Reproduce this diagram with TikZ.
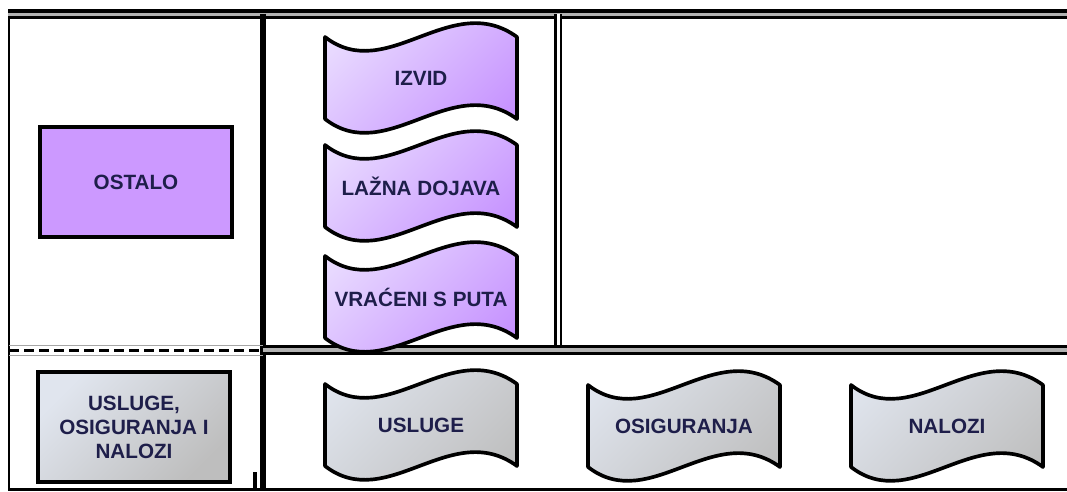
\documentclass[tikz,border=0pt]{standalone}
\usepackage{fontspec}
\setmainfont{Liberation Sans}
\definecolor{purpL}{HTML}{EADDFF}
\definecolor{purpD}{HTML}{C590FF}
\definecolor{purpF}{HTML}{CC99FF}
\definecolor{grayL}{HTML}{E0E5EE}
\definecolor{grayD}{HTML}{BEBEBE}
\definecolor{txt}{HTML}{1E1E4A}
\newcommand\wavenode[5]{% #1 style, #2 name, #3 x, #4 y, #5 text
  \begin{scope}[shift={(#3,#4)}]
    \path[#1] (-96,-41) .. controls (-34,7) and (30,-89) .. (96,-41)
      -- (96,41) .. controls (30,-7) and (-34,89) .. (-96,41) -- cycle;
    \node[lbl] (#2) at (0,0) {#5};
  \end{scope}}
\begin{document}
\begin{tikzpicture}[x=0.75pt,y=-0.75pt,
  lbl/.style={font=\fontsize{15.5}{18}\selectfont\bfseries, text=txt, align=center, inner sep=0pt},
  wave/.style={draw=black, line width=2.75pt, line join=round},
  purpwave/.style={wave, left color=purpL, right color=purpD, shading angle=45},
  graywave/.style={wave, left color=grayL, right color=grayD, shading angle=45},
  box/.style={lbl, rectangle, draw=black, line width=3pt, minimum width=144pt, minimum height=82.5pt},
  purpbox/.style={box, fill=purpF},
  graybox/.style={box, left color=grayL, right color=grayD, shading angle=45},
  grid/.style={draw=black, line cap=butt}
]
\useasboundingbox (0,0) rectangle (1067,492);
% grid lines
\draw[grid, line width=1.5pt] (9,14) -- (9,489);
\draw[grid, double=gray!60, line width=2.5pt, double distance=2.5pt] (8,14.5) -- (1067,14.5);
\draw[grid, line width=4.5pt] (263,14) -- (263,490);
\draw[grid, double=white, line width=1.75pt, double distance=2.25pt] (558,14) -- (558,352);
\draw[grid, double=gray!60, line width=2.25pt, double distance=2.5pt] (263,350) -- (1067,350);
\draw[grid, draw=gray!70, line width=1pt] (9,345.5) -- (263,345.5);
\draw[grid, line width=2.5pt, dash pattern=on 7.5pt off 3.75pt] (9,350.5) -- (263,350.5);
\draw[grid, draw=gray!70, line width=1pt] (9,355.5) -- (263,355.5);
\draw[grid, line width=2.25pt] (8,489) -- (1067,489);
\draw[grid, line width=3pt] (255,472) -- (255,489);
% nodes
\node[purpbox] (ostalo) at (136,182) {OSTALO};
\wavenode{purpwave}{izvid}{421}{78}{IZVID}
\wavenode{purpwave}{lazna}{421}{186}{LAŽNA DOJAVA}
\wavenode{purpwave}{vraceni}{421}{297}{VRAĆENI S PUTA}
\node[graybox] (uon) at (134,427) {USLUGE,\\OSIGURANJA I\\NALOZI};
\wavenode{graywave}{usluge}{421}{425}{USLUGE}
\wavenode{graywave}{osig}{684}{426}{OSIGURANJA}
\wavenode{graywave}{nalozi}{947}{426}{NALOZI}
\end{tikzpicture}
\end{document}
